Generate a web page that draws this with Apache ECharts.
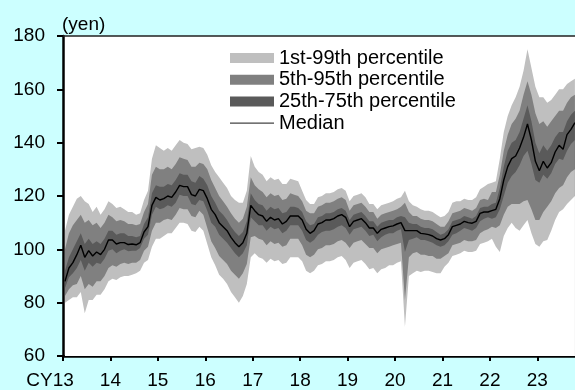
<!DOCTYPE html>
<html><head><meta charset="utf-8">
<script src="https://cdn.jsdelivr.net/npm/echarts@6/dist/echarts.min.js"></script>
<style>html,body{margin:0;padding:0;background:#CCFFFF;}#c{width:575px;height:390px;}</style>
</head><body><div id="c"></div>
<script>
// Monthly observations, Jan 2013 .. Oct 2023 (yen per dollar)
const startYear = 2013;
const median = [
 88,93,95,98,101.5,97,99.5,97.5,99,98,100,103.5,
 103.5,102,102.5,102.5,101.8,102,101.7,102.5,106.5,108.5,116.5,119.5,
 118.5,119,120,119.5,121.5,124,123.5,123.5,120.5,120,122.5,122,
 119,115,113,110,108.5,107,104.5,102.5,101,102.5,106,116.5,
 114.5,113,112.5,110.5,112,111,111.5,109.5,110.5,112.5,112.5,112.5,
 111,107.5,106,107,109.5,110,111,111,111.5,112.5,113,112,
 108.5,110.5,111,111.5,110,108,108,106,107.5,108,108.5,108.8,
 109.5,110,107,107,107,107,106,105.8,105.5,105,104,103.5,
 104,105.5,108.5,109,109.5,110.5,110,109.8,110.5,113.5,114,114,
 114.5,115,119,126,131,134,135,138,142,147,141,133,
 129.5,133,130.5,132.5,136.5,139,137.5,143,145,147.5
];
const p1 = [
 80,81,82,82,84,76,81,81,83,83,85,88,
 89,88.5,89.5,90,90,90.5,91,92,95,96,101,104,
 104,105,106,106,108,110,110,109.5,107,106.5,108.5,107,
 102,97,94,90.5,89,87,84,82,80,82.5,87,97,
 98.5,97,96.5,95,96.5,95.5,96,94.5,95,97,97,97,
 95.5,92,91,92,94,94.5,95.5,95.5,96,97,97.5,96,
 93,95,95.5,96,94.5,92.5,93,91,92.5,93,94,94,
 95,95.5,71,90,91,92,91.5,92,92,91.5,91,91,
 93.5,95,97.5,98,98.5,99.5,99,99,99.5,102,102.5,103,
 104,101,99,105,108,110,108,107,109,111,106,102,
 101,103,103.5,107,111,114,115,117,118.5,120
];
const p5 = [
 82.5,85,86.5,87,90,85,87,86,88,88,90,93,
 94,93.5,94.5,95,94.5,95,95,96,99.5,101,107,110,
 110,111,111.5,111,113,115.5,115,115,112.5,112,114.5,113,
 108,103,100.5,97.5,96,94.5,92,90.5,89,91,94.5,104.5,
 105,104,103.5,101.5,103,102,102.5,101,101.5,104,104,104,
 101.5,98,97,98,100,100.5,101.5,101.5,102,103,103.5,102.5,
 100.5,102.5,103,103.5,102,100.5,100.5,98.5,100,100.5,101,101.5,
 102,102.5,81,97,98.5,99,98,98,97.5,97.5,96.5,96.5,
 97.5,98.5,101.5,102,102.5,103.5,103,103,103.5,106,107,107.5,
 108.5,108,109,113,116,117,117,117,118,118.5,115,111,
 111,114,116,118,121,123,124,127,129,130
];
const p25 = [
 85.5,89.5,91,93,96,92,95,93.5,95,94.5,96.5,99.5,
 100,98.5,99.5,100,99.3,99.5,99.5,100.5,104,105.5,113,116,
 115,115.5,116.5,116,117.5,120.5,120,120,117,116.5,118.5,118,
 114.5,110,108.5,105.5,104,102.5,100.5,98.5,97,98.5,101.5,112,
 110.5,109,109,107,108.5,107.5,108,106,107,109,109,109,
 107,103.5,102.5,103.5,105.5,106.5,107,107,107.5,108.5,109,108,
 105.5,107.5,108,108.5,107,105,105.5,103,104.5,105.5,106,106,
 107,107.5,99,103.5,104,104.5,103.5,103.5,103,102.5,101.5,101,
 101.5,103,105.5,106,107,108,107.5,107,108,110.5,111.5,112,
 111.5,112,115,120,125,127.5,129,131.5,135,137,132,126,
 125,128,126.5,128.5,132,134,133.5,137,139.5,141
];
const p75 = [
 92,97,100,103,106,102,104,102,103,102,104,107,
 107,105.5,106,106,105,105,104.5,105,109.5,112,121,124,
 123.5,123.5,124.5,124,126,128.5,128,128,125.5,125,127.5,126.5,
 124,120,117.5,114.5,113,111,108.5,106.5,105,106.5,110.5,121,
 118.5,117,116.5,114.5,116,115,115.5,113.5,114,116,116,115.5,
 114,110.5,109,109.5,112,112.5,113.5,113.5,114,115,115.5,114.5,
 111,113,113.5,114,112.5,110.5,110.5,108.5,110,110.5,111,111,
 112,112.5,112,110,109.5,109.5,108.5,108,108,107.5,106.5,105.5,
 106,107.5,110.5,111,111.5,112.5,112,111.5,112.5,115.5,116,116,
 117,117.5,123,131,137,140,141,144,149,154,148,140,
 136,139,137,139,142,144,144,148,150.5,152
];
const p95 = [
 100,106,109,111,113,110,111,109,110,108,110,113,
 112,110.5,111,110.5,109.5,109.5,109,109.5,114,117,128,131,
 130,130,131,130,132,134.5,134,133.5,131,131,132.5,132,
 130,126,123,120,118,116,113.5,111.5,110,111.5,116,127,
 124,122.5,121.5,119.5,121,120,120.5,118.5,119,121,120.5,120,
 118,114.5,113.5,113.5,116,116.5,117.5,117.5,118,119,119.5,118.5,
 114.5,116.5,117,117.5,116,114,114,111.5,113,113.5,114,114.5,
 115,116,117.5,114,112.5,112.5,111.5,111,111,110.5,109.5,108.5,
 108.5,110.5,113.5,114,114.5,115.5,115,114.5,115.5,118.5,119,118.5,
 121.5,121.5,128,137,143,147,149,152,158,163,158,151,
 147,148,146,148,150,152,152,155,157,158
];
const p99 = [
 107,113,116,119,120,118,117,114,116,113,115,118,
 117,115.5,116,115,114,114,113,113.5,118.5,122,134,139,
 138,137,138,137,139,141,140,139.5,137.5,138,138.5,138,
 135.5,131.5,129,127,125,123,120,118.5,117.5,117.5,122,135,
 131,129,128,125.5,127,126,126.5,124.5,124.5,126.5,126,125.5,
 122,118.5,117,117,119.5,120,121,121,121.5,122.5,123,122,
 118,120,120.5,121,119.5,117,117,115,116.5,117,117.5,118,
 119,119.5,122,118,116.5,116,115,114.5,114.5,114,113,112,
 112.5,114,117.5,118,118,119,118.5,118.5,119.5,122.5,123.5,124.5,
 125,125.5,134,144,150,154,157,161,167,175,168,161,
 157,157,155,156,158,160,160,162,163,164
];
const tickYears = [2013,2014,2015,2016,2017,2018,2019,2020,2021,2022,2023];
const tickLabels = ['CY13','14','15','16','17','18','19','20','21','22','23'];
const yMin = 60, yMax = 180, yStep = 20;
const bandNames = ['1st-99th percentile','5th-95th percentile','25th-75th percentile'];
const LIGHT = '#BFBFBF', MID = '#808080', DARK = '#5A5A5A', PLOT = '#FFFFFF';

const xs = median.map((_, i) => startYear + (i + 0.5) / 12);
const pairs = arr => arr.map((v, i) => [xs[i], v]);

// Nested bands drawn as layered areas filled down to the axis floor:
// upper edges first (light, mid, dark), then lower edges (mid, light, plot background).
function areaSeries(name, arr, fill, z) {
  const s = {
    type: 'line', data: pairs(arr), symbol: 'none', showSymbol: false,
    color: fill,
    lineStyle: { width: 1, color: fill, opacity: 0 },
    itemStyle: { color: fill },
    areaStyle: { color: fill, opacity: 1, origin: 'start' },
    silent: true, emphasis: { disabled: true }, z: z
  };
  if (name) s.name = name;
  return s;
}
const series = [
  areaSeries(bandNames[0], p99, LIGHT, 2),
  areaSeries(bandNames[1], p95, MID, 2),
  areaSeries(bandNames[2], p75, DARK, 2),
  areaSeries(null, p25, MID, 2),
  areaSeries(null, p5, LIGHT, 2),
  areaSeries(null, p1, PLOT, 2),
  {
    name: 'Median', type: 'line', data: pairs(median), symbol: 'none', showSymbol: false,
    color: '#000', lineStyle: { width: 1.4, color: '#000' },
    silent: true, emphasis: { disabled: true }, z: 6
  }
];

const chart = echarts.init(document.getElementById('c'), null, { renderer: 'canvas' });
const xMax = startYear + median.length / 12 - 0.04;
const FONT = 'Liberation Sans, Arial, sans-serif';
chart.setOption({
  animation: false,
  backgroundColor: '#CCFFFF',
  textStyle: { fontFamily: FONT },
  grid: { left: 63, right: 0, top: 36, bottom: 33, show: true, backgroundColor: PLOT, borderWidth: 0 },
  graphic: [{
    type: 'text', left: 62, top: 15,
    style: { text: '(yen)', fontSize: 19, fontFamily: FONT, fill: '#000' }
  }],
  legend: {
    orient: 'vertical', left: 230, top: 48, padding: 0, itemWidth: 44, itemHeight: 10, itemGap: 1.7,
    selectedMode: false,
    textStyle: { fontSize: 20, lineHeight: 20, color: '#000', fontFamily: FONT },
    data: [
      { name: bandNames[0], icon: 'rect', itemStyle: { color: LIGHT, borderWidth: 0 } },
      { name: bandNames[1], icon: 'rect', itemStyle: { color: MID, borderWidth: 0 } },
      { name: bandNames[2], icon: 'rect', itemStyle: { color: DARK, borderWidth: 0 } },
      { name: 'Median', icon: 'path://M0,0M0,4.3L44,4.3L44,5.7L0,5.7ZM44,10', itemStyle: { color: '#444', borderWidth: 0 } }
    ]
  },
  xAxis: [{
    type: 'value', min: startYear, max: xMax, position: 'bottom',
    axisLine: { show: true, onZero: false, lineStyle: { color: '#000', width: 2.5 } },
    axisTick: { show: true, inside: false, length: 5, lineStyle: { color: '#000', width: 2 }, customValues: tickYears },
    axisLabel: {
      show: true, margin: 15, fontSize: 19, color: '#000', customValues: tickYears,
      formatter: v => {
        const i = tickYears.indexOf(Math.round(v));
        return i === 0 ? '{first|' + tickLabels[0] + '}' : (i > 0 ? tickLabels[i] : '');
      },
      rich: { first: { fontSize: 19, color: '#000', padding: [0, 26, 0, 0], fontFamily: FONT } }
    },
    splitLine: { show: false }
  }, {
    type: 'value', min: startYear, max: xMax, position: 'top',
    axisLine: { show: true, onZero: false, lineStyle: { color: '#222', width: 1.6 } },
    axisTick: { show: false }, axisLabel: { show: false }, splitLine: { show: false }
  }],
  yAxis: {
    type: 'value', min: yMin, max: yMax, interval: yStep,
    axisLine: { show: true, lineStyle: { color: '#000', width: 2.5 } },
    axisTick: { show: true, inside: false, length: 6, lineStyle: { color: '#000', width: 2 } },
    axisLabel: { margin: 18, fontSize: 19, color: '#000' },
    splitLine: { show: false }
  },
  series: series
});
</script></body></html>
